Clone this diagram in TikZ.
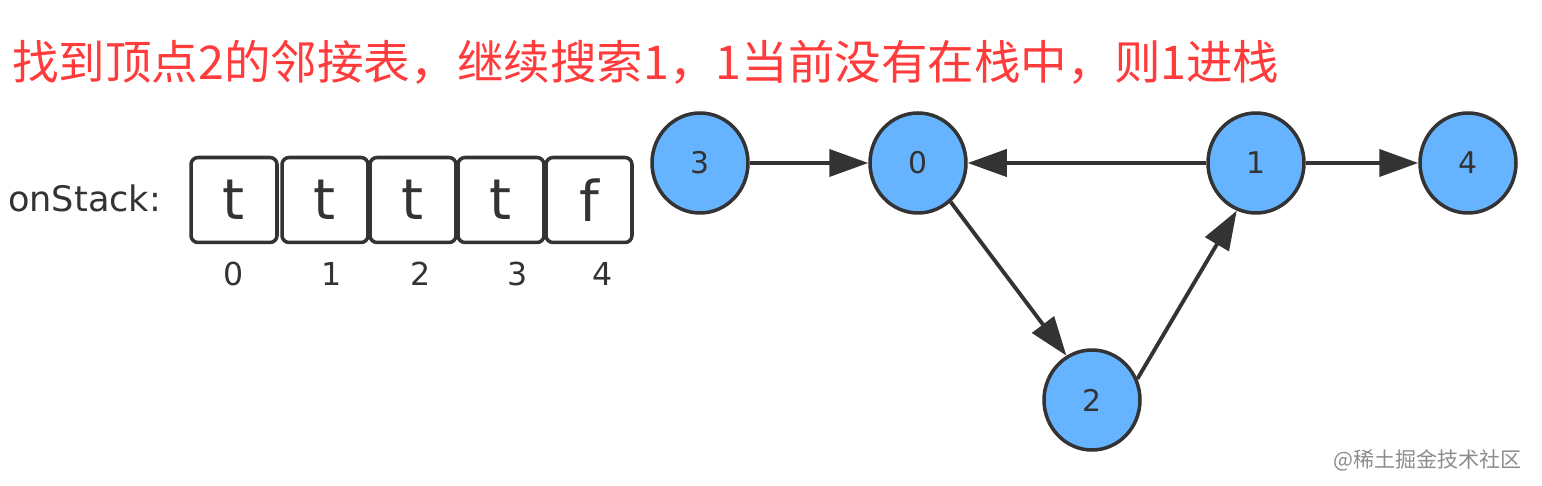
\documentclass[tikz,border=0pt]{standalone}
\usepackage{fontspec}
\setmainfont{DejaVu Sans}
\newfontfamily\cjk{Noto Sans CJK SC}
\usepackage{xcolor}
\usepackage{tikz}
\usetikzlibrary{arrows.meta,shapes.geometric}

\definecolor{vblue}{HTML}{66B3FF}
\definecolor{vdark}{HTML}{333333}
\definecolor{hred}{HTML}{FF3B3B}

\begin{document}
\begin{tikzpicture}[x=0.02cm, y=-0.02cm,
    >={Triangle[length=0.78cm,width=0.54cm]},
    vertex/.style={ellipse, draw=vdark, line width=2pt, fill=vblue,
                   minimum width=1.92cm, minimum height=2cm, inner sep=0pt,
                   text=vdark, font=\fontsize{17}{17}\selectfont},
    cell/.style={draw=vdark, line width=2pt, rounded corners=4pt,
                 minimum width=1.72cm, minimum height=1.7cm, inner sep=0pt,
                 text=vdark, font=\fontsize{32}{32}\selectfont},
    idx/.style={text=vdark, font=\fontsize{18}{18}\selectfont},
    edge/.style={->, vdark, line width=2.2pt}]
  \useasboundingbox (0,0) rectangle (1542,486);

  % Title
  \node[anchor=west, text=hred, font=\cjk\fontsize{26.5}{26.5}\selectfont]
    (title) at (6,62) {找到顶点2的邻接表，继续搜索1，1当前没有在栈中，则1进栈};

  % onStack array
  \node[anchor=west, text=vdark, font=\fontsize{20}{20}\selectfont]
    (lbl) at (2,198) {onStack:};
  \node[cell] (c0) at (234,200) {t};
  \node[cell] (c1) at (325,200) {t};
  \node[cell] (c2) at (413,200) {t};
  \node[cell] (c3) at (501,200) {t};
  \node[cell] (c4) at (589,200) {f};

  \node[idx] (i0) at (234,274) {0};
  \node[idx] (i1) at (332,274) {1};
  \node[idx] (i2) at (421,274) {2};
  \node[idx] (i3) at (518,274) {3};
  \node[idx] (i4) at (603,274) {4};

  % Graph
  \node[vertex] (n3) at (700,163) {3};
  \node[vertex] (n0) at (918,163) {0};
  \node[vertex] (n1) at (1256,163) {1};
  \node[vertex] (n4) at (1468,163) {4};
  \node[vertex] (n2) at (1092,400) {2};

  \draw[edge] (n3) -- (n0);
  \draw[edge] (n1) -- (n0);
  \draw[edge] (n1) -- (n4);
  \draw[edge] (n0.-50) -- (n2.120);
  \draw[edge] (n2.25) -- (n1.-112);

  % watermark
  \node[anchor=east, text=black!45, font=\cjk\fontsize{12}{12}\selectfont]
    (mark) at (1528,460) {@稀土掘金技术社区};
\end{tikzpicture}
\end{document}
